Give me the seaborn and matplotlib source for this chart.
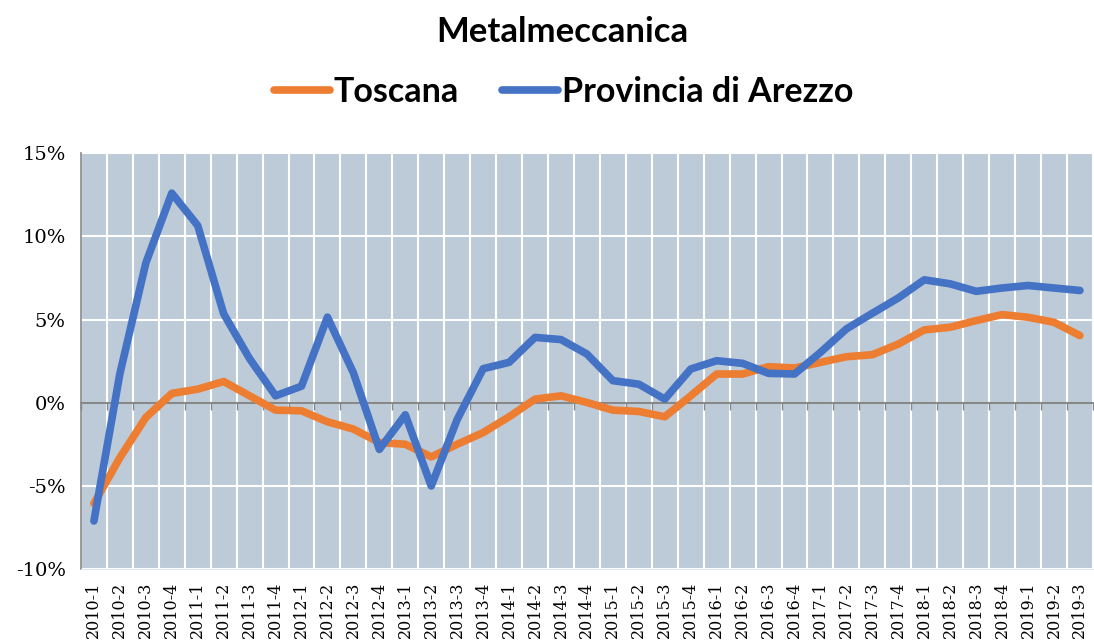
"""
Metalmeccanica - Toscana vs Provincia di Arezzo (quarterly % change)
"""
import numpy as np
import pandas as pd
import matplotlib
matplotlib.use('Agg')
import matplotlib.pyplot as plt
import seaborn as sns
from matplotlib.ticker import FuncFormatter

# quarters 2010-1 .. 2019-3
quarters = [f"{y}-{q}" for y in range(2010, 2020) for q in range(1, 5)][:39]

toscana = [-6.05, -3.3, -0.88, 0.56, 0.82, 1.28, 0.42, -0.44, -0.48, -1.14,
           -1.58, -2.39, -2.49, -3.25, -2.49, -1.79, -0.84, 0.22, 0.42, 0.02,
           -0.44, -0.52, -0.84, 0.42, 1.73, 1.73, 2.17, 2.09, 2.43, 2.77,
           2.89, 3.53, 4.38, 4.54, 4.94, 5.30, 5.14, 4.84, 4.04]

arezzo = [-7.1, 1.75, 8.4, 12.6, 10.65, 5.35, 2.65, 0.42, 1.0, 5.15,
          1.8, -2.8, -0.72, -5.0, -1.0, 2.05, 2.43, 3.93, 3.8, 2.93,
          1.33, 1.12, 0.22, 2.03, 2.53, 2.37, 1.77, 1.73, 3.03, 4.44,
          5.38, 6.3, 7.39, 7.15, 6.7, 6.9, 7.05, 6.9, 6.75]

series_names = ['Toscana', 'Provincia di Arezzo']
colors = ['#ED7D31', '#4472C4']

df = pd.DataFrame({
    'trimestre': quarters * 2,
    'valore': toscana + arezzo,
    'serie': [series_names[0]] * len(quarters) + [series_names[1]] * len(quarters),
})

sns.set_style('white')
plt.rcParams['font.family'] = ['Lato', 'DejaVu Sans']
plt.rcParams['text.color'] = 'black'
plt.rcParams['xtick.color'] = 'black'
plt.rcParams['ytick.color'] = 'black'

fig = plt.figure(figsize=(10.94, 6.41), dpi=100)
ax = fig.add_axes([0.074, 0.112, 0.925, 0.649])
ax.set_facecolor('#BDCAD8')

sns.lineplot(data=df, x='trimestre', y='valore', hue='serie', palette=colors,
             sort=False, linewidth=5.5, ax=ax, legend=True)

n = len(quarters)
ax.set_xlim(-0.5, n - 0.5)
ax.set_ylim(-10, 15)
ax.set_yticks([-10, -5, 0, 5, 10, 15])
ax.yaxis.set_major_formatter(FuncFormatter(lambda v, p: f"{v:.0f}%"))

# category labels at centers, grid at category boundaries
ax.set_xticks(range(n))
ax.set_xticklabels(quarters, rotation=90)
ax.set_xticks(np.arange(n + 1) - 0.5, minor=True)
ax.tick_params(axis='x', which='both', length=0, pad=9,
               labelfontfamily='DejaVu Serif', labelsize=11.5)
ax.tick_params(axis='y', length=5, width=1, color='#888888', direction='out', pad=6,
               labelfontfamily='DejaVu Serif', labelsize=14, labelcolor='black')

ax.grid(True, which='minor', axis='x', color='white', linewidth=1.5)
ax.grid(True, which='major', axis='y', color='white', linewidth=1.5)
ax.grid(False, which='major', axis='x')
ax.set_axisbelow(True)

ax.spines['top'].set_visible(False)
ax.spines['right'].set_visible(False)
ax.spines['left'].set_color('#888888')
ax.spines['left'].set_linewidth(1.2)
ax.spines['bottom'].set_color('#dfe5ec')

# zero axis line with ticks at category boundaries
sec = ax.secondary_xaxis(10 / 25)
sec.set_xticks(np.arange(n + 1) - 0.5)
sec.set_xticklabels([])
sec.tick_params(length=5, width=1, color='#888888', direction='out')
sec.spines['bottom'].set_color('#888888')
sec.spines['bottom'].set_linewidth(1.5)
sec.set_zorder(1.5)

ax.set_xlabel('')
ax.set_ylabel('')

leg = ax.legend(loc='center', bbox_to_anchor=(0.515, 0.856), bbox_transform=fig.transFigure,
                ncol=2, frameon=False, handlelength=1.65, columnspacing=1.25,
                handletextpad=0.12, prop={'family': ['Lato', 'DejaVu Sans'],
                                          'weight': 'bold', 'size': 24.5})
for line in leg.get_lines():
    line.set_linewidth(5.5)
    line.set_solid_capstyle('round')

fig.suptitle('Metalmeccanica', x=0.514, y=0.975, fontsize=25, fontweight='bold')

fig.savefig('out.png', dpi=100, facecolor='white')
